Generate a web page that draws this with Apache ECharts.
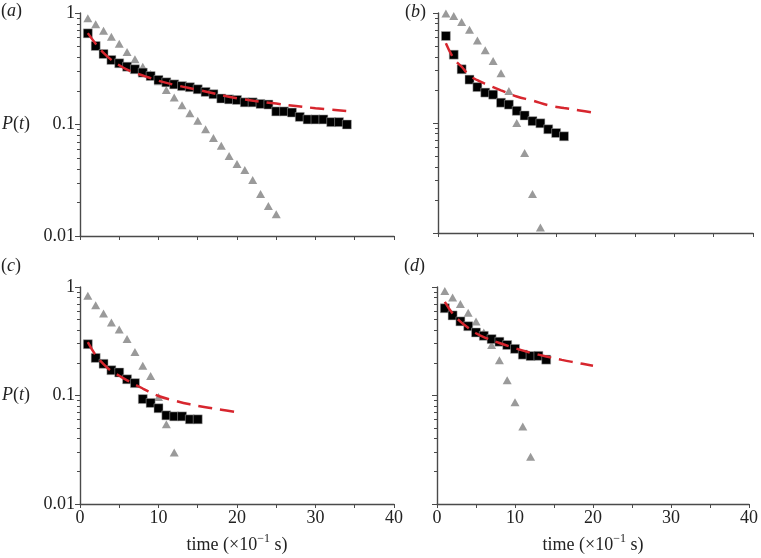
<!DOCTYPE html>
<html><head><meta charset="utf-8">
<script src="https://cdn.jsdelivr.net/npm/echarts@6/dist/echarts.min.js"></script>
<style>html,body{margin:0;padding:0;background:#fff}#c{width:761px;height:558px}</style>
</head><body><div id="c"></div>
<script>
// ---- data ----
const xTicks = [0, 10, 20, 30, 40];
const yTickLabels = [0.01, 0.1, 1];
const yMinorTicks = [0.02,0.03,0.04,0.05,0.06,0.07,0.08,0.09,0.2,0.3,0.4,0.5,0.6,0.7,0.8,0.9];

const sqTA = [1,2,3,4,5,6,7,8,9,10,11,12,13,14,15,16,17,18,19,20,21,22,23,24,25,26,27,28,29,30,31,32,33,34];
const sqA  = [0.657,0.506,0.429,0.379,0.354,0.330,0.313,0.292,0.272,0.251,0.239,0.229,0.221,0.216,0.207,0.196,0.187,0.171,0.168,0.166,0.158,0.158,0.153,0.151,0.131,0.131,0.128,0.117,0.111,0.111,0.111,0.105,0.105,0.100];
const triTA = [1,2,3,4,5,6,7,8,9,10,11,12,13,14,15,16,17,18,19,20,21,22,23,24,25];
const triA  = [0.896,0.791,0.694,0.613,0.531,0.447,0.384,0.330,0.284,0.244,0.204,0.175,0.149,0.126,0.108,0.0906,0.0757,0.0646,0.0522,0.0442,0.0391,0.0318,0.0238,0.0186,0.0157];
const fitTA = [1,2,3,4,5,6,7,8,10,12,15,20,25,30,34];
const fitA  = [0.66,0.53,0.44,0.38,0.34,0.31,0.29,0.275,0.247,0.227,0.205,0.172,0.154,0.14,0.132];

const sqTB = [1,2,3,4,5,6,7,8,9,10,11,12,13,14,15,16];
const sqB  = [0.618,0.418,0.308,0.248,0.212,0.189,0.181,0.153,0.147,0.129,0.117,0.104,0.0994,0.0877,0.0811,0.0757];
const triTB = [1,2,3,4,5,6,7,8,9,10,11,12,13];
const triB  = [0.99,0.94,0.83,0.706,0.561,0.458,0.366,0.283,0.195,0.100,0.0534,0.0226,0.0112];
const fitTB = [1,2,3,4,5,6,8,10,12,14,16,18,20];
const fitB  = [0.53,0.385,0.325,0.27,0.245,0.227,0.198,0.174,0.16,0.145,0.137,0.13,0.123];

const sqTC = [1,2,3,4,5,6,7,8,9,10,11,12,13,14,15];
const sqC  = [0.297,0.222,0.196,0.171,0.163,0.141,0.130,0.0927,0.0854,0.0763,0.0656,0.0642,0.0642,0.0603,0.0603];
const triTC = [1,2,3,4,5,6,7,8,9,10,11,12];
const triC  = [0.829,0.678,0.570,0.470,0.406,0.332,0.252,0.188,0.151,0.0967,0.0543,0.0299];
const fitTC = [1,2,3,4,5,6,8,10,12,14,16,18,20];
const fitC  = [0.31,0.235,0.195,0.168,0.152,0.138,0.116,0.099,0.09,0.083,0.078,0.074,0.070];

const sqTD = [1,2,3,4,5,6,7,8,9,10,11,12,13,14];
const sqD  = [0.637,0.547,0.482,0.435,0.381,0.355,0.331,0.313,0.292,0.269,0.238,0.231,0.232,0.214];
const triTD = [1,2,3,4,5,6,7,8,9,10,11,12];
const triD  = [0.920,0.800,0.697,0.578,0.482,0.381,0.292,0.211,0.138,0.0867,0.0519,0.0272];
const fitTD = [1,2,3,4,5,6,8,10,12,14,16,18,20];
const fitD  = [0.73,0.57,0.48,0.42,0.375,0.345,0.305,0.273,0.248,0.229,0.213,0.2,0.188];

const panelLabels = ['a', 'b', 'c', 'd'];
// ---- build ----
const FONT = 'Liberation Serif';
const AX = '#4a4a4a';
const zip = (xs, ys) => xs.map((x, i) => [x, ys[i]]);
const panels = [
  {sqT: sqTA, sq: sqA, triT: triTA, tri: triA, fitT: fitTA, fit: fitA},
  {sqT: sqTB, sq: sqB, triT: triTB, tri: triB, fitT: fitTB, fit: fitB},
  {sqT: sqTC, sq: sqC, triT: triTC, tri: triC, fitT: fitTC, fit: fitC},
  {sqT: sqTD, sq: sqD, triT: triTD, tri: triD, fitT: fitTD, fit: fitD}
];
const grids = [
  {left: 79, top: 13, width: 315, height: 223},
  {left: 438, top: 13, width: 315, height: 220},
  {left: 79, top: 287, width: 315, height: 221},
  {left: 437, top: 287, width: 316, height: 221}
];
const xAxis = [], yAxis = [], series = [];
grids.forEach((g, i) => {
  const bottom = i >= 2, left = (i % 2) === 0;
  xAxis.push({
    type: 'value', gridIndex: i, min: xTicks[0], max: xTicks[xTicks.length - 1], interval: 10,
    axisLine: {show: true, lineStyle: {color: AX, width: 1.4}},
    axisTick: {show: true, length: 4, lineStyle: {color: AX}},
    minorTick: {show: true, splitNumber: 2, length: 4, lineStyle: {color: AX}},
    splitLine: {show: false},
    axisLabel: {show: bottom, fontFamily: FONT, fontSize: 18, color: '#222', margin: 5},
    name: bottom ? 'time (×10{sup|−1} s)' : '',
    nameLocation: 'middle', nameGap: 29,
    nameTextStyle: {fontFamily: FONT, fontSize: 18, color: '#222', lineHeight: 24,
      rich: {sup: {fontFamily: FONT, fontSize: 12, verticalAlign: 'top', lineHeight: 12, color: '#222'}}}
  });
  yAxis.push({
    type: 'log', logBase: 10, gridIndex: i, min: 0.01, max: 1,
    axisLine: {show: true, lineStyle: {color: AX, width: 1.4}},
    axisTick: {show: true, length: 5, customValues: yTickLabels, lineStyle: {color: AX}},
    splitLine: {show: false},
    axisLabel: {show: left, customValues: yTickLabels, fontFamily: FONT, fontSize: 18, color: '#222', margin: 5,
      formatter: v => (v < 0.05 ? '0.01' : v < 0.5 ? '0.1' : '1')},
    name: left ? '{i|P}({i|t})' : '',
    nameLocation: 'middle', nameGap: 50, nameRotate: 0,
    nameTextStyle: {fontFamily: FONT, fontSize: 18, color: '#222',
      rich: {i: {fontFamily: FONT, fontSize: 18, fontStyle: 'italic', color: '#222'}}}
  });
  yAxis.push({
    type: 'log', logBase: 10, gridIndex: i, min: 0.01, max: 1, position: 'left',
    axisLine: {show: false},
    axisTick: {show: true, length: 3, customValues: yMinorTicks, lineStyle: {color: AX}},
    axisLabel: {show: false}, splitLine: {show: false}
  });
  const p = panels[i];
  series.push({
    type: 'scatter', xAxisIndex: i, yAxisIndex: 2 * i, symbol: 'triangle', symbolSize: [9, 8],
    itemStyle: {color: '#9a9a9a', opacity: 1}, data: zip(p.triT, p.tri), z: 2
  });
  series.push({
    type: 'scatter', xAxisIndex: i, yAxisIndex: 2 * i, symbol: 'rect', symbolSize: 9,
    itemStyle: {color: '#000', borderColor: '#b0b0b0', borderWidth: 0.5, opacity: 1}, data: zip(p.sqT, p.sq), z: 3
  });
  series.push({
    type: 'line', xAxisIndex: i, yAxisIndex: 2 * i, smooth: 0.4, showSymbol: false, symbol: 'none',
    lineStyle: {color: '#d7262e', width: 2.5, type: [14, 8]}, data: zip(p.fitT, p.fit), z: 4
  });
});
const labelPos = [[1, 12], [405, 13], [1, 267], [404, 267]];
const graphic = panelLabels.map((l, i) => ({
  type: 'text', left: labelPos[i][0], top: labelPos[i][1] - 10,
  style: {text: '({i|' + l + '})', fontFamily: FONT, fontSize: 18, fill: '#222',
    rich: {i: {fontFamily: FONT, fontSize: 18, fontStyle: 'italic', fill: '#222'}}}
}));
const chart = echarts.init(document.getElementById('c'), null, {renderer: 'canvas'});
chart.setOption({animation: false, backgroundColor: '#fff', grid: grids, xAxis, yAxis, series, graphic});
</script></body></html>
